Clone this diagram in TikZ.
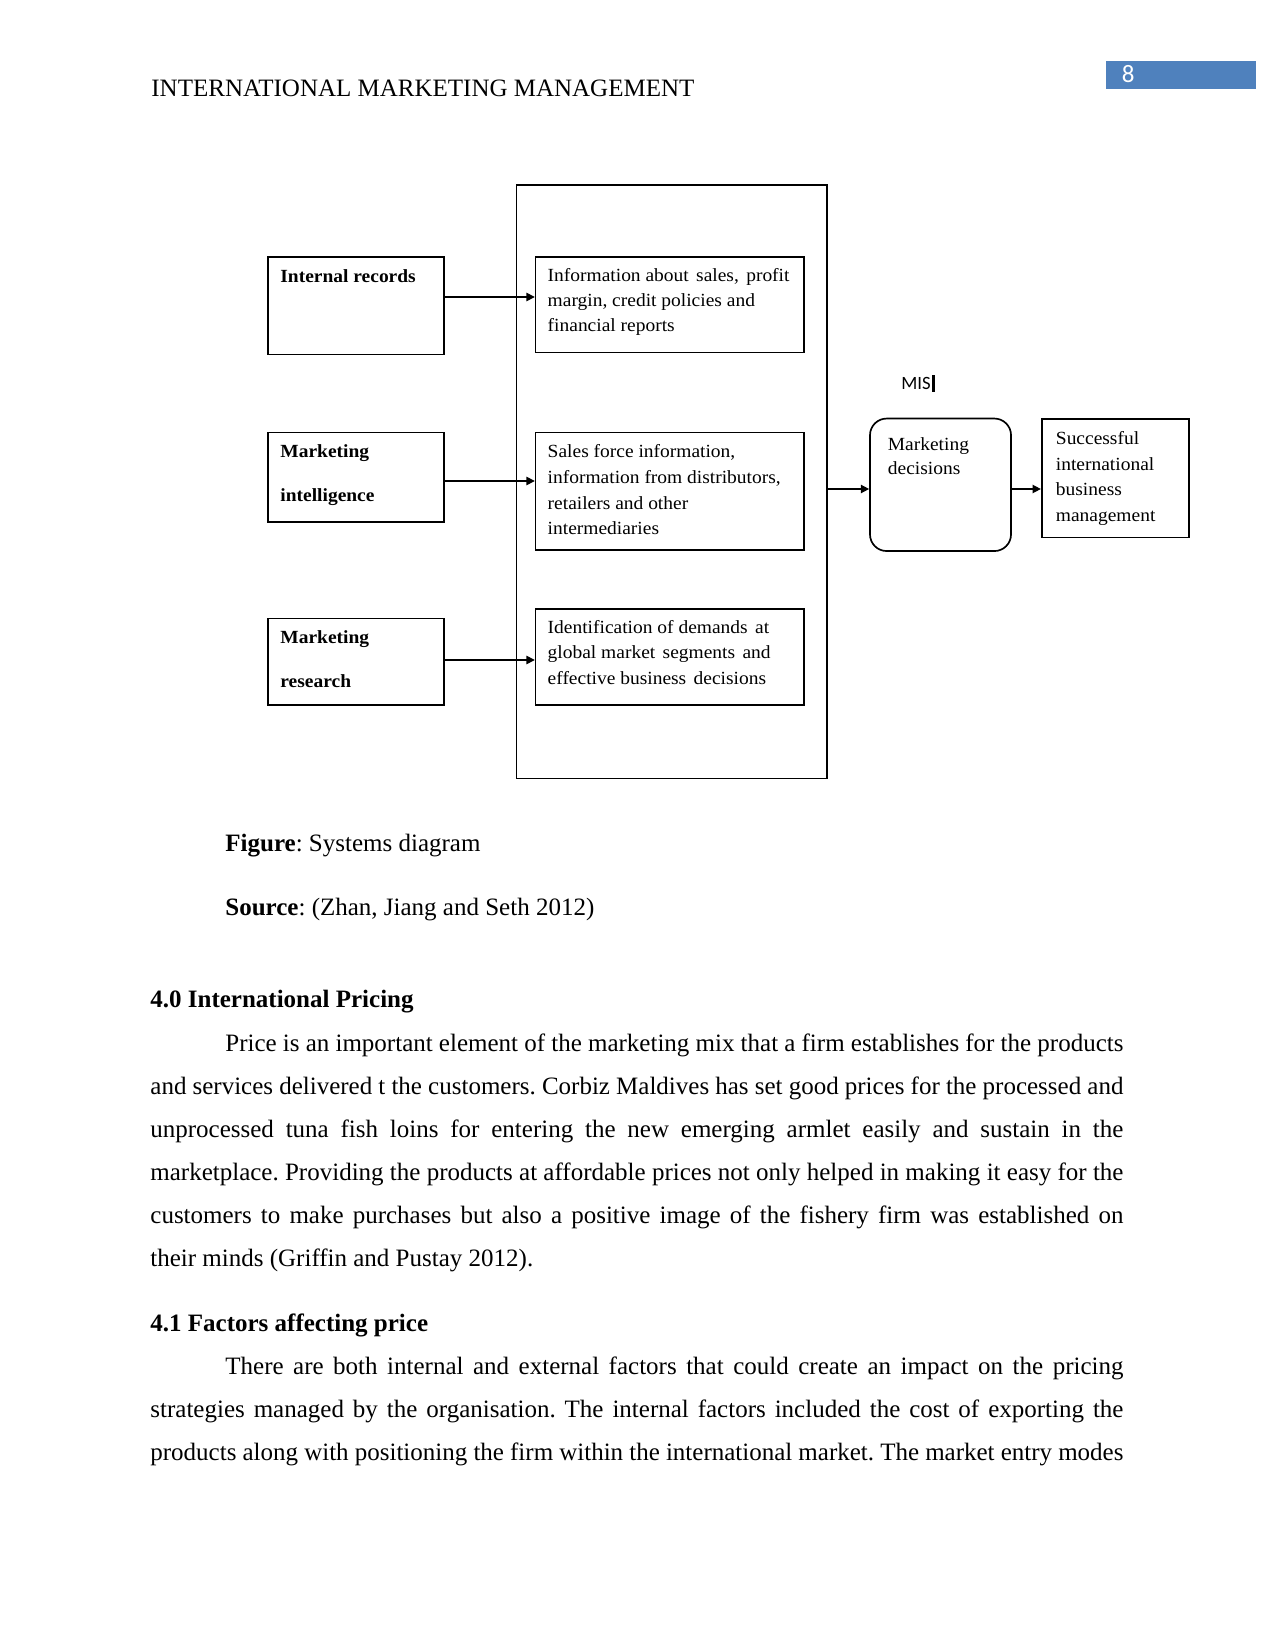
\documentclass[tikz,border=0pt]{standalone}
\usepackage{fontspec}
\setmainfont{Liberation Serif}
\newfontfamily\calib{Carlito}
\newfontfamily\diagf[FakeStretch=1.05]{Liberation Serif}
\usetikzlibrary{arrows.meta}
\definecolor{pgblue}{HTML}{4F81BD}
\newcommand{\jline}[2]{\makebox[#1][s]{#2}}
\newcommand{\xs}{\hspace{1.2pt}}
\frenchspacing
\tikzset{
  box/.style={draw, line width=0.8pt, inner sep=0, rectangle},
  rbox/.style={draw, line width=0.8pt, inner sep=0, rectangle, rounded corners=8pt},
  arr/.style={line width=0.7pt, -{Triangle[length=4pt,width=4pt]}},
  txt/.style={inner sep=0, anchor=base west},
  dtxt/.style={inner sep=0, anchor=base west, font=\diagf\fontsize{8.9}{11}\selectfont},
  dbold/.style={inner sep=0, anchor=base west, font=\diagf\bfseries\fontsize{8.9}{11}\selectfont},
  body/.style={inner sep=0, anchor=base west, font=\fontsize{12}{14}\selectfont},
}
\begin{document}
\begin{tikzpicture}[x=0.48pt, y=-0.48pt]
\useasboundingbox (0,0) rectangle (1275,1650);
\fill[white] (0,0) rectangle (1275,1650);

% header
\node[txt, font=\fontsize{12}{14}\selectfont] (hdr) at (151,96.7) {INTERNATIONAL MARKETING MANAGEMENT};
\node[fill=pgblue, inner sep=0, minimum width=71.9pt, minimum height=13.3pt] (pg) at (1180.9,74.9) {};
\node[txt, text=white, font=\calib\fontsize{12}{14}\selectfont] (pgn) at (1121.5,82.7) {8};

% diagram boxes
\node[box, minimum width=149.04pt, minimum height=284.9pt] (mis) at (671.75,481.75) {};
\node[box, minimum width=84.48pt, minimum height=46.94pt] (ir) at (356.2,305.6) {};
\node[box, minimum width=84.48pt, minimum height=42.9pt] (mi) at (356.2,477.1) {};
\node[box, minimum width=84.48pt, minimum height=41.4pt] (mr) at (356.2,661.7) {};
\node[box, minimum width=128.7pt, minimum height=45.9pt] (i1) at (669.7,304.6) {};
\node[box, minimum width=128.7pt, minimum height=56.5pt] (i2) at (669.7,491.3) {};
\node[box, minimum width=128.7pt, minimum height=45.9pt] (i3) at (669.7,657.0) {};
\node[rbox, minimum width=67.7pt, minimum height=63.6pt] (md) at (940.5,484.8) {};
\node[box, minimum width=70.85pt, minimum height=56.9pt] (sb) at (1115.5,478.2) {};

% box texts
\node[dbold] (tir) at (280,282.3) {Internal records};
\node[dbold] (tmi1) at (280,457.5) {Marketing};
\node[dbold] (tmi2) at (280,501.5) {intelligence};
\node[dbold] (tmr1) at (280,643.5) {Marketing};
\node[dbold] (tmr2) at (280,687.7) {research};

\node[dtxt] (ti1a) at (547.3,281.7) {Information about\xs{} sales,\xs{} profit};
\node[dtxt] (ti1b) at (547.3,306.8) {margin, credit policies and};
\node[dtxt] (ti1c) at (547.3,331.9) {financial reports};

\node[dtxt] (ti2a) at (547.3,457.5) {Sales force information,};
\node[dtxt] (ti2b) at (547.3,483.3) {information from distributors,};
\node[dtxt] (ti2c) at (547.3,509.0) {retailers and other};
\node[dtxt] (ti2d) at (547.3,534.8) {intermediaries};

\node[dtxt] (ti3a) at (547.3,633.0) {Identification of demands\xs{} at};
\node[dtxt] (ti3b) at (547.3,658.8) {global market\xs{} segments\xs{} and};
\node[dtxt] (ti3c) at (547.3,684.5) {effective business\xs{} decisions};

\node[dtxt] (tmd1) at (887.5,450.0) {Marketing};
\node[dtxt] (tmd2) at (887.5,474.0) {decisions};

\node[dtxt] (tsb1) at (1055.5,444.0) {Successful};
\node[dtxt] (tsb2) at (1055.5,470.0) {international};
\node[dtxt] (tsb3) at (1055.5,496.0) {business};
\node[dtxt] (tsb4) at (1055.5,521.0) {management};

\node[txt, font=\calib\fontsize{9}{11}\selectfont] (mislbl) at (901,389.3) {MIS};
\draw[line width=1.3pt] ([xshift=1.2pt,yshift=0.8pt]mislbl.north east) -- ([xshift=1.2pt,yshift=-1.2pt]mislbl.base east);

% arrows
\draw[arr] (ir.east |- 0,297) -- (i1.west |- 0,297);
\draw[arr] (mi.east |- 0,481) -- (i2.west |- 0,481);
\draw[arr] (mr.east |- 0,660) -- (i3.west |- 0,660);
\draw[arr] (mis.east |- 0,489) -- (md.west |- 0,489);
\draw[arr] (md.east |- 0,489) -- (sb.west |- 0,489);

% captions
\node[body] (fig) at (225,851) {\textbf{Figure}: Systems diagram};
\node[body] (src) at (225,915) {\textbf{Source}: (Zhan, Jiang and Seth 2012)};

% section 4.0
\node[body] (h40) at (150,1007.3) {\textbf{4.0 International Pricing}};
\node[body] (p1a) at (225,1051) {\jline{431.04pt}{Price is an important element of the marketing mix that a firm establishes for the products}};
\node[body] (p1b) at (150,1094) {\jline{467.04pt}{and services delivered t the customers. Corbiz Maldives has set good prices for the processed and}};
\node[body] (p1c) at (150,1137) {\jline{467.04pt}{unprocessed tuna fish loins for entering the new emerging armlet easily and sustain in the}};
\node[body] (p1d) at (150,1180) {\jline{467.04pt}{marketplace. Providing the products at affordable prices not only helped in making it easy for the}};
\node[body] (p1e) at (150,1223) {\jline{467.04pt}{customers to make purchases but also a positive image of the fishery firm was established on}};
\node[body] (p1f) at (150,1266) {their minds (Griffin and Pustay 2012).};

% section 4.1
\node[body] (h41) at (150,1331.5) {\textbf{4.1 Factors affecting price}};
\node[body] (p2a) at (225,1374) {\jline{431.04pt}{There are both internal and external factors that could create an impact on the pricing}};
\node[body] (p2b) at (150,1417) {\jline{467.04pt}{strategies managed by the organisation. The internal factors included the cost of exporting the}};
\node[body] (p2c) at (150,1460) {\jline{467.04pt}{products along with positioning the firm within the international market. The market entry modes}};
\end{tikzpicture}
\end{document}
